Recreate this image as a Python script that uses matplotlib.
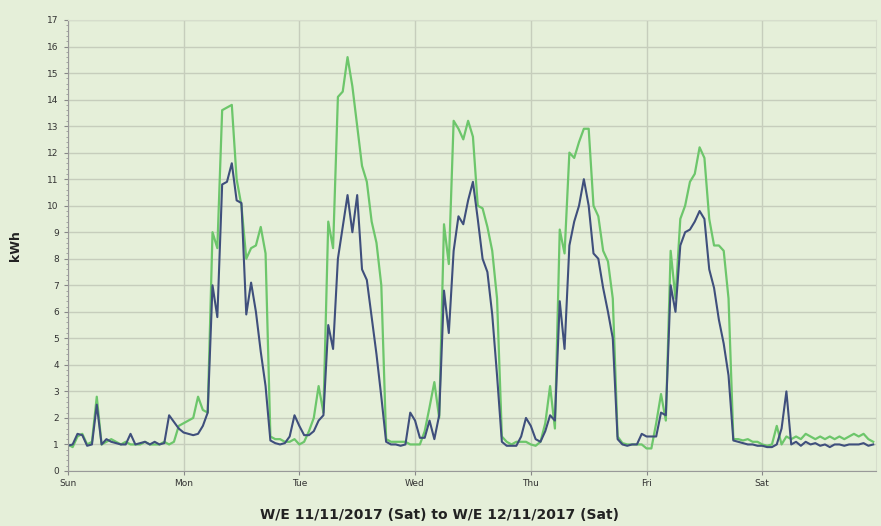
import matplotlib
matplotlib.use('Agg')
import matplotlib.pyplot as plt
from matplotlib.ticker import MultipleLocator
import numpy as np

# Hourly readings (kWh), one row per day, Sun..Sat
days = ['Sun', 'Mon', 'Tue', 'Wed', 'Thu', 'Fri', 'Sat']

green_sun = [1.0, 0.9, 1.3, 1.4, 1.0, 1.1, 2.8, 1.0, 1.1, 1.2, 1.1, 1.0,
             1.1, 1.0, 1.0, 1.0, 1.1, 1.0, 1.0, 1.0, 1.1, 1.0, 1.1, 1.7]
green_mon = [1.8, 1.9, 2.0, 2.8, 2.3, 2.2, 9.0, 8.4, 13.6, 13.7, 13.8, 11.0,
             10.0, 8.0, 8.4, 8.5, 9.2, 8.2, 1.3, 1.2, 1.2, 1.1, 1.1, 1.2]
green_tue = [1.0, 1.1, 1.5, 2.0, 3.2, 2.2, 9.4, 8.4, 14.1, 14.3, 15.6, 14.5,
             13.0, 11.5, 10.9, 9.4, 8.6, 7.0, 1.2, 1.1, 1.1, 1.1, 1.1, 1.0]
green_wed = [1.0, 1.0, 1.5, 2.4, 3.35, 2.0, 9.3, 7.8, 13.2, 12.9, 12.5, 13.2,
             12.6, 10.0, 9.9, 9.2, 8.3, 6.5, 1.3, 1.1, 1.0, 1.1, 1.1, 1.1]
green_thu = [1.0, 0.95, 1.1, 1.8, 3.2, 1.6, 9.1, 8.2, 12.0, 11.8, 12.4, 12.9,
             12.9, 10.0, 9.6, 8.3, 7.9, 6.5, 1.3, 1.05, 1.0, 1.0, 1.0, 1.0]
green_fri = [0.85, 0.85, 1.8, 2.9, 1.9, 8.3, 6.5, 9.5, 10.0, 10.9, 11.2, 12.2,
             11.8, 9.5, 8.5, 8.5, 8.3, 6.5, 1.2, 1.2, 1.15, 1.2, 1.1, 1.1]
green_sat = [1.0, 0.95, 1.0, 1.7, 1.0, 1.3, 1.2, 1.3, 1.2, 1.4, 1.3, 1.2,
             1.3, 1.2, 1.3, 1.2, 1.3, 1.2, 1.3, 1.4, 1.3, 1.4, 1.2, 1.1]

blue_sun = [0.95, 1.0, 1.4, 1.35, 0.95, 1.0, 2.5, 1.0, 1.2, 1.1, 1.05, 1.0,
            1.0, 1.4, 1.0, 1.05, 1.1, 1.0, 1.1, 1.0, 1.05, 2.1, 1.85, 1.6]
blue_mon = [1.45, 1.4, 1.35, 1.4, 1.7, 2.2, 7.0, 5.8, 10.8, 10.9, 11.6, 10.2,
            10.1, 5.9, 7.1, 6.0, 4.5, 3.2, 1.15, 1.05, 1.0, 1.05, 1.3, 2.1]
blue_tue = [1.7, 1.35, 1.35, 1.5, 1.9, 2.1, 5.5, 4.6, 8.0, 9.2, 10.4, 9.0,
            10.4, 7.6, 7.2, 5.8, 4.4, 2.8, 1.1, 1.0, 1.0, 0.95, 1.0, 2.2]
blue_wed = [1.9, 1.25, 1.25, 1.9, 1.2, 2.1, 6.8, 5.2, 8.3, 9.6, 9.3, 10.2,
            10.9, 9.5, 8.0, 7.5, 5.9, 3.6, 1.1, 0.95, 0.95, 0.95, 1.3, 2.0]
blue_thu = [1.7, 1.2, 1.1, 1.5, 2.1, 1.9, 6.4, 4.6, 8.5, 9.4, 10.0, 11.0,
            10.0, 8.2, 8.0, 6.9, 6.0, 5.0, 1.2, 1.0, 0.95, 1.0, 1.0, 1.4]
blue_fri = [1.3, 1.3, 1.3, 2.2, 2.1, 7.0, 6.0, 8.5, 9.0, 9.1, 9.4, 9.8,
            9.5, 7.6, 6.9, 5.7, 4.8, 3.6, 1.15, 1.1, 1.05, 1.0, 1.0, 0.95]
blue_sat = [0.95, 0.9, 0.9, 1.0, 1.6, 3.0, 1.0, 1.1, 0.95, 1.1, 1.0, 1.05,
            0.95, 1.0, 0.9, 1.0, 1.0, 0.95, 1.0, 1.0, 1.0, 1.05, 0.95, 1.0]

green = green_sun + green_mon + green_tue + green_wed + green_thu + green_fri + green_sat
blue = blue_sun + blue_mon + blue_tue + blue_wed + blue_thu + blue_fri + blue_sat
t = np.arange(len(green)) / 24.0

bg = '#e5efd9'
fig = plt.figure(figsize=(8.81, 5.26), dpi=100, facecolor=bg)
ax = fig.add_axes([0.077, 0.1046, 0.917, 0.8574])
ax.set_facecolor(bg)

ax.plot(t, green, color='#6dc66b', lw=1.6)
ax.plot(t, blue, color='#3f4f7c', lw=1.5)

ax.set_xlim(0, 6.98)
ax.set_ylim(0, 17)
ax.set_xticks(range(7))
ax.set_xticklabels(days, fontsize=6.5, color='#333333')
ax.yaxis.set_major_locator(MultipleLocator(1))
ax.yaxis.set_minor_locator(MultipleLocator(0.2))
ax.tick_params(axis='y', labelsize=6.5, colors='#333333', length=3, color='#888888')
ax.tick_params(axis='y', which='minor', length=1.5, color='#999999')
ax.tick_params(axis='x', length=3, color='#888888', pad=3)

ax.grid(True, color='#c6cdbc', lw=1)
ax.set_axisbelow(True)
for s in ['left', 'bottom']:
    ax.spines[s].set_color('#999999')
for s in ['top', 'right']:
    ax.spines[s].set_color('#d6ddcc')

ax.set_ylabel('kWh', fontsize=9, fontweight='bold', family='DejaVu Sans', labelpad=18, color='#222222')
fig.text(440 / 881, 0.021, 'W/E 11/11/2017 (Sat) to W/E 12/11/2017 (Sat)', fontsize=10,
         fontweight='bold', family='DejaVu Sans', color='#222222', ha='center', va='center')

plt.savefig('out.png', dpi=100, facecolor=bg)
